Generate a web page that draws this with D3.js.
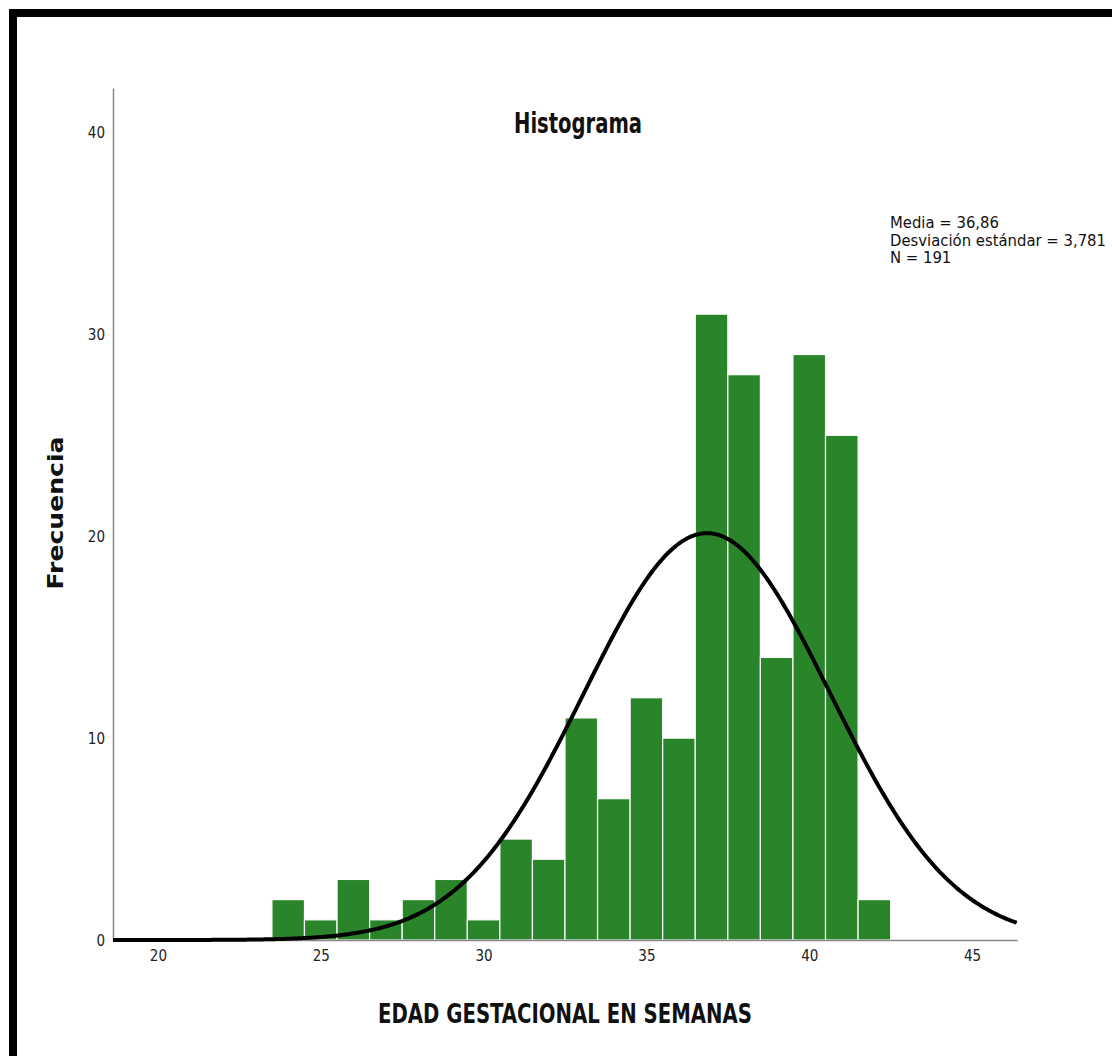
<!DOCTYPE html>
<html>
<head>
<meta charset="utf-8">
<script src="https://cdn.jsdelivr.net/npm/d3@7"></script>
<style>
  body { margin: 0; background: #fff; }
  text { font-family: "Liberation Sans Narrow", "DejaVu Sans Condensed", "Roboto Condensed", sans-serif; fill: #111; }
  .tick text { font-size: 15px; fill: #222; }
  .axis path { stroke: #888; stroke-width: 1.5; }
</style>
</head>
<body>
<script>
//Data: weeks (bin centres) and frequencies
const weeks  = [24, 25, 26, 27, 28, 29, 30, 31, 32, 33, 34, 35, 36, 37, 38, 39, 40, 41, 42];
const counts = [ 2,  1,  3,  1,  2,  3,  1,  5,  4, 11,  7, 12, 10, 31, 28, 14, 29, 25,  2];
const xTicks = [20, 25, 30, 35, 40, 45];
const yTicks = [0, 10, 20, 30, 40];
const media = 36.86, sd = 3.781, n = 191, binWidth = 1;

const width = 1112, height = 1056;
const margin = { top: 88, right: 95, bottom: 116, left: 113 };

const svg = d3.select("body").append("svg")
    .attr("width", width)
    .attr("height", height);

//Frame
svg.append("rect").attr("x", 9).attr("y", 9).attr("width", width + 20).attr("height", height + 20)
    .attr("fill", "none").attr("stroke", "#000").attr("stroke-width", 8).attr("transform", "translate(4,4)");

//Scales
let x = d3.scaleLinear()
    .domain([18.62, 46.38])
    .range([margin.left, width - margin.right]);

let y = d3.scaleLinear()
    .domain([0, 42.2])
    .range([height - margin.bottom, margin.top]);

//Bars
svg.selectAll("rect.bar")
    .data(weeks)
    .enter()
    .append("rect")
    .attr("class", "bar")
    .attr("x", d => x(d - binWidth / 2))
    .attr("width", x(binWidth) - x(0))
    .attr("y", (d, i) => y(counts[i]))
    .attr("height", (d, i) => y(0) - y(counts[i]))
    .attr("fill", "#2a852a")
    .attr("stroke", "#fff")
    .attr("stroke-width", 1.2);

//Axes (no tick marks)
let xAxis = d3.axisBottom(x).tickValues(xTicks).tickSize(0).tickPadding(10);
let yAxis = d3.axisLeft(y).tickValues(yTicks).tickSize(0).tickPadding(8);

svg.append("g")
    .attr("class", "axis xAxis")
    .attr("transform", `translate(0, ${y(0)})`)
    .call(xAxis);

svg.append("g")
    .attr("class", "axis yAxis")
    .attr("transform", `translate(${margin.left}, 0)`)
    .call(yAxis);

svg.selectAll(".yAxis .tick text").attr("dy", "0.35em");

//Normal curve
const normal = v => n * binWidth / (sd * Math.sqrt(2 * Math.PI)) * Math.exp(-0.5 * Math.pow((v - media) / sd, 2));
const curvePts = d3.range(x.domain()[0], x.domain()[1] + 0.001, 0.05);

svg.append("path")
    .datum(curvePts)
    .attr("fill", "none")
    .attr("stroke", "#000")
    .attr("stroke-width", 4)
    .attr("d", d3.line().x(d => x(d)).y(d => y(normal(d))).curve(d3.curveBasis));

//Title
svg.append("text")
    .attr("x", 578)
    .attr("y", 133)
    .attr("text-anchor", "middle")
    .attr("textLength", 128)
    .attr("lengthAdjust", "spacingAndGlyphs")
    .style("font-size", "28px")
    .style("font-weight", "bold")
    .text("Histograma");

//Stats
const stats = [`Media = ${d3.format(".2f")(media).replace(".", ",")}`,
               `Desviación estándar = ${d3.format(".3f")(sd).replace(".", ",")}`,
               `N = ${n}`];
svg.selectAll("text.stat")
    .data(stats)
    .enter()
    .append("text")
    .attr("class", "stat")
    .attr("x", 890)
    .attr("y", (d, i) => 228 + i * 17.5)
    .style("font-size", "16.5px")
    .text(d => d);

//Axis titles
svg.append("text")
    .attr("transform", "translate(63, 513) rotate(-90)")
    .attr("text-anchor", "middle")
    .attr("textLength", 153)
    .attr("lengthAdjust", "spacingAndGlyphs")
    .style("font-family", "'DejaVu Sans', Verdana, sans-serif")
    .style("font-size", "22px")
    .style("font-weight", "bold")
    .text("Frecuencia");

svg.append("text")
    .attr("x", 565)
    .attr("y", 1023)
    .attr("text-anchor", "middle")
    .attr("textLength", 374)
    .attr("lengthAdjust", "spacingAndGlyphs")
    .style("font-size", "26px")
    .style("font-weight", "bold")
    .text("EDAD GESTACIONAL EN SEMANAS");
</script>
</body>
</html>
